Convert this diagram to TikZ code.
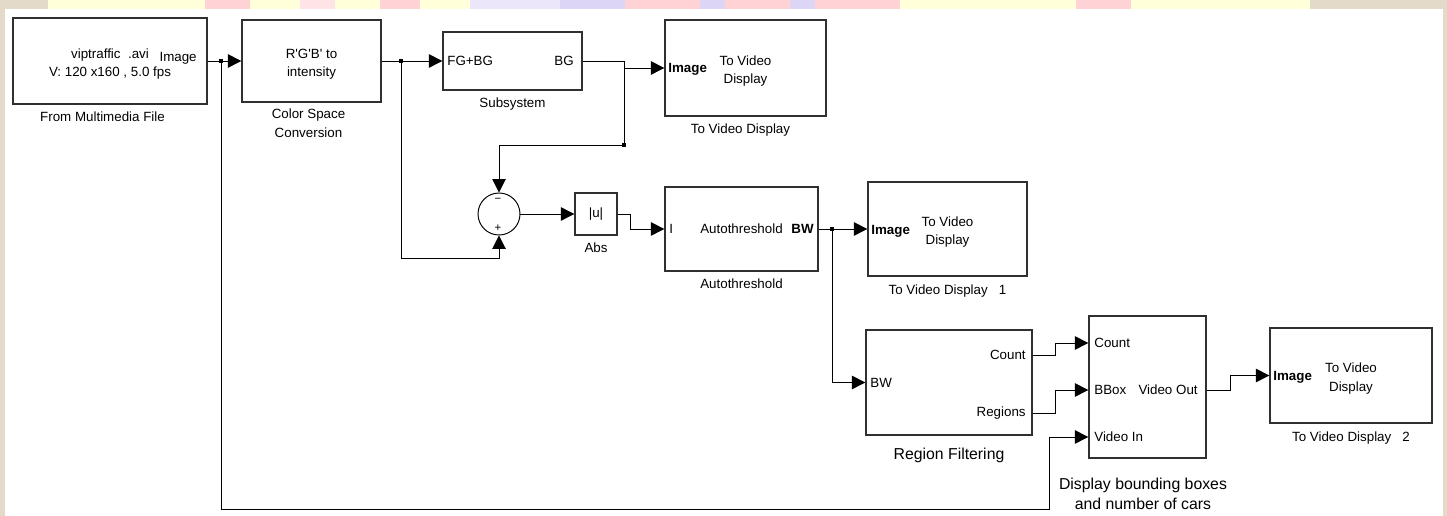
\documentclass[tikz,border=0pt]{standalone}
\usepackage{fontspec}
\setmainfont{Liberation Sans}
\usepackage{tikz}
\usetikzlibrary{arrows.meta,calc}
\definecolor{deskbeige}{HTML}{E4DACA}
\definecolor{stripyellow}{HTML}{FFFFD9}
\definecolor{strippink}{HTML}{FFD3D6}
\definecolor{striplilac}{HTML}{DDD5F6}
\definecolor{boxgray}{HTML}{303030}
\newcommand{\blocktop}{\rule{0pt}{0.32cm}}

\begin{document}
\begin{tikzpicture}[
		x=0.02cm,y=-0.02cm,
		line cap=butt,
		line join=miter,
		block/.style={draw=boxgray, line width=0.75pt, fill=white, inner sep=0pt, align=center, font=\fontsize{7.6}{10.6}\selectfont},
		port/.style={inner sep=0pt, font=\fontsize{7.6}{9}\selectfont},
		boldport/.style={inner sep=0pt, font=\fontsize{7.6}{9}\selectfont\bfseries},
		signlabel/.style={inner sep=0pt, font=\fontsize{6.5}{7}\selectfont},
		caption/.style={inner sep=0pt, align=center, font=\fontsize{7.6}{10.6}\selectfont},
		bigcaption/.style={inner sep=0pt, align=center, font=\fontsize{9}{11.6}\selectfont},
		wire/.style={line width=0.55pt, draw=black},
		flow/.style={-{Triangle[length=0.27cm,width=0.27cm]}, line width=0.55pt, draw=black},
		junction/.style={fill=black, inner sep=0pt, minimum size=0.07cm}
	]
	\useasboundingbox (0,0) rectangle (1447,516);
	
	% Backdrop
	\fill[deskbeige] (0,0) rectangle (1447,516);
	\fill[stripyellow] (48,0) rectangle (1310,9);
	\fill[strippink]   (205,0) rectangle (250,9);
	\fill[strippink!60] (300,0) rectangle (335,9);
	\fill[strippink]   (380,0) rectangle (420,9);
	\fill[striplilac!60] (470,0) rectangle (560,9);
	\fill[striplilac]  (560,0) rectangle (625,9);
	\fill[strippink]   (625,0) rectangle (700,9);
	\fill[striplilac]  (700,0) rectangle (725,9);
	\fill[strippink]   (725,0) rectangle (790,9);
	\fill[striplilac]  (790,0) rectangle (815,9);
	\fill[strippink]   (815,0) rectangle (900,9);
	\fill[strippink]   (1076,0) rectangle (1131,9);
	\fill[white] (5,9) rectangle (1443,516);
	
	% Top row
	\node[block, minimum width=3.88cm, minimum height=1.72cm] (fmf) at (110,61) {\blocktop viptraffic\ \ .avi\\V: 120 x160 , 5.0 fps};
	\node[port, anchor=east] (fmfimage) at (197,58) {Image};
	\node[caption, anchor=north] (fmfcap) at ([xshift=-0.15cm,yshift=-0.14cm]fmf.south) {From Multimedia File};
	
	\node[block, minimum width=2.78cm, minimum height=1.64cm] (csc) at (311.5,61) {\blocktop R\textquotesingle G\textquotesingle B\textquotesingle{} to\\intensity};
	\node[caption, anchor=north] (csccap) at ([xshift=-0.06cm,yshift=-0.12cm]csc.south) {Color Space\\Conversion};
	
	\node[block, minimum width=2.78cm, minimum height=1.16cm] (sub) at (512.5,61) {};
	\node[port, anchor=west] (subin) at (447,61) {FG+BG};
	\node[port, anchor=east] (subout) at (574,61) {BG};
	\node[caption, anchor=north] (subcap) at ([yshift=-0.14cm]sub.south) {Subsystem};
	
	\node[block, minimum width=3.22cm, minimum height=1.92cm] (tvd) at (745.5,68) {\blocktop To Video\\Display};
	\node[boldport, anchor=west] (tvdimage) at (668,69) {Image};
	\node[caption, anchor=north] (tvdcap) at ([xshift=-0.1cm,yshift=-0.14cm]tvd.south) {To Video Display};
	
	% Middle row
	\node[draw=black, line width=0.55pt, circle, fill=white, minimum size=0.84cm, inner sep=0pt] (sum) at (499,214) {};
	\node[signlabel] (summinus) at (498,200) {−};
	\node[signlabel] (sumplus) at (498,228) {+};
	
	\node[block, minimum width=0.84cm, minimum height=0.84cm] (abs) at (596,214) {|u|};
	\node[caption, anchor=north] (abscap) at ([yshift=-0.14cm]abs.south) {Abs};
	
	\node[block, minimum width=3.06cm, minimum height=1.68cm] (ath) at (741.5,229) {Autothreshold};
	\node[port, anchor=west] (athin) at (669,229) {I};
	\node[boldport, anchor=east] (athout) at (814,229) {BW};
	\node[caption, anchor=north] (athcap) at ([yshift=-0.14cm]ath.south) {Autothreshold};
	
	\node[block, minimum width=3.18cm, minimum height=1.88cm] (tvdone) at (947.5,229) {\blocktop To Video\\Display};
	\node[boldport, anchor=west] (tvdoneimage) at (871,231) {Image};
	\node[caption, anchor=north] (tvdonecap) at ([yshift=-0.16cm]tvdone.south) {To Video Display\ \ \ 1};
	
	% Bottom row
	\node[block, minimum width=3.32cm, minimum height=2.1cm] (rf) at (949,382.5) {};
	\node[port, anchor=west] (rfin) at (870,383) {BW};
	\node[port, anchor=east] (rfcount) at (1026,355) {Count};
	\node[port, anchor=east] (rfregions) at (1026,413) {Regions};
	\node[bigcaption, anchor=north] (rfcap) at ([yshift=-0.24cm]rf.south) {Region Filtering};
	
	\node[block, minimum width=2.34cm, minimum height=2.84cm] (dbb) at (1147.5,387) {};
	\node[port, anchor=west] (dbbcount) at (1094,343) {Count};
	\node[port, anchor=west] (dbbbbox) at (1094,390) {BBox};
	\node[port, anchor=west] (dbbvin) at (1094,437) {Video In};
	\node[port, anchor=east] (dbbvout) at (1198,390) {Video Out};
	\node[bigcaption, anchor=north] (dbbcap) at ([xshift=-0.09cm,yshift=-0.38cm]dbb.south) {Display bounding boxes\\and number of cars};
	
	\node[block, minimum width=3.24cm, minimum height=1.9cm] (tvdtwo) at (1351,375.5) {\blocktop To Video\\Display};
	\node[boldport, anchor=west] (tvdtwoimage) at (1273,377) {Image};
	\node[caption, anchor=north] (tvdtwocap) at ([yshift=-0.16cm]tvdtwo.south) {To Video Display\ \ \ 2};
	
	% Signal lines
	\node[junction] (j1) at (221,61) {};
	\node[junction] (j2) at (401,61) {};
	\node[junction] (j3) at (624,145) {};
	\node[junction] (j4) at (832,229) {};
	\coordinate (sumfeed) at (499,258);
	\coordinate (fbcorner) at (1049,509);
	
	\draw[flow] (fmf.east) -- (csc.west);
	\draw[flow] (csc.east) -- (sub.west);
	\draw[wire] (sub.east) -| (j3);
	\draw[flow] (j3 |- tvd.west) -- (tvd.west);
	\draw[flow] (j3) -| (sum.north);
	\draw[flow] (j2) |- (sumfeed) -- (sum.south);
	\draw[flow] (sum.east) -- (abs.west);
	\draw[flow] (abs.east) -- ++(13,0) |- (ath.west);
	\draw[flow] (ath.east) -- (tvdone.west);
	\draw[flow] (j4) |- (rf.west);
	\draw[flow] (rf.east |- rfcount) -- ++(23,0) |- (dbb.west |- dbbcount);
	\draw[flow] (rf.east |- rfregions) -- ++(23,0) |- (dbb.west |- dbbbbox);
	\draw[flow] (dbb.east |- dbbvout) -- ++(24,0) |- (tvdtwo.west);
	\draw[flow] (j1) |- (fbcorner) |- (dbb.west |- dbbvin);
	
\end{tikzpicture}
\end{document}
